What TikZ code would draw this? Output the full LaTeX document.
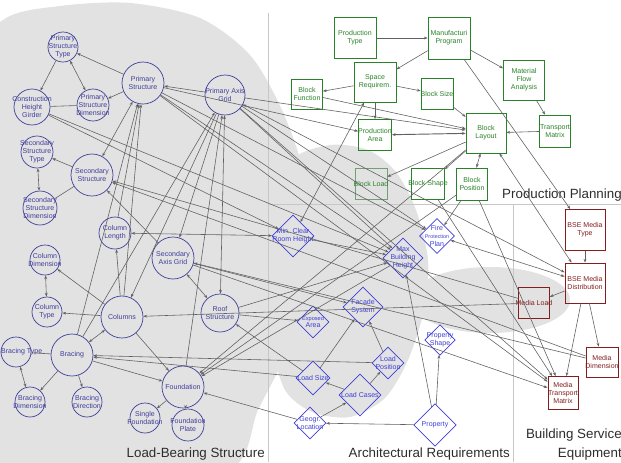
\documentclass[tikz,border=0pt]{standalone}
\usepackage{fontspec}
\setmainfont{Liberation Sans}
\usetikzlibrary{shapes.geometric,arrows.meta}

\definecolor{lbblue}{RGB}{62,62,155}
\definecolor{arblue}{RGB}{62,62,215}
\definecolor{ppgreen}{RGB}{40,130,40}
\definecolor{loadgreen}{RGB}{115,160,115}
\definecolor{bsered}{RGB}{130,30,30}
\definecolor{regiongrey}{RGB}{226,226,226}
\definecolor{titlegrey}{RGB}{45,45,45}

\tikzset{
  lbnode/.style={circle, draw=lbblue, line width=0.6pt, inner sep=0pt},
  arnode/.style={diamond, aspect=1, draw=arblue, line width=0.6pt, inner sep=0pt},
  ppnode/.style={rectangle, draw=ppgreen, line width=0.6pt, inner sep=0pt},
  bsenode/.style={rectangle, draw=bsered, line width=0.7pt, inner sep=0pt},
  lbtext/.style={text=lbblue, font=\fontsize{6}{6.8}\selectfont, align=center, inner sep=0pt},
  artext/.style={text=arblue, font=\fontsize{6}{6.8}\selectfont, align=center, inner sep=0pt},
  pptext/.style={text=ppgreen, font=\fontsize{6}{6.8}\selectfont, align=center, inner sep=0pt},
  bsetext/.style={text=bsered, font=\fontsize{6}{6.8}\selectfont, align=center, inner sep=0pt},
  link/.style={black!62, line width=0.5pt},
  sepline/.style={black!22, line width=0.7pt},
  region/.style={font=\fontsize{11.4}{16}\selectfont, text=titlegrey, inner sep=0pt}
}

\begin{document}
\begin{tikzpicture}[x=0.03cm, y=-0.03cm, >={Stealth[length=3.2pt,width=2.4pt]}]
    \useasboundingbox (0,0) rectangle (621,462);

    % Grey areas
    \begin{scope}
      \clip (0,0) rectangle (621,462);
      \fill[regiongrey] plot[smooth cycle] coordinates {(-40,80) (3,20) (60,6) (130,3) (200,18) (250,55) (282,110) (303,170) (311,235) (303,300) (283,360) (258,410) (230,470) (100,500) (-40,480)};
      \fill[regiongrey] plot[smooth cycle] coordinates {(292,160) (330,145) (368,150) (396,172) (416,210) (428,260) (424,310) (408,360) (385,398) (350,417) (312,412) (285,390) (273,345) (272,280) (277,210)};
      \fill[regiongrey] (490,300) ellipse [x radius=80, y radius=33];
    \end{scope}

    % Borders
    \draw[sepline] (268,13) -- (268,462);
    \draw[sepline] (268,204) -- (621,204);
    \draw[sepline] (513,204) -- (513,462);

    % Load-Bearing Structure
    \node[lbnode, minimum size=0.9cm, label={[lbtext]center:Primary\\Structure\\Type}] (pst) at (63,47) {};
    \node[lbnode, minimum size=1.26cm, label={[lbtext]center:Primary\\Structure}] (ps) at (143,83) {};
    \node[lbnode, minimum size=1.08cm, label={[lbtext]center:Construction\\Height\\Girder}] (chg) at (32,107) {};
    \node[lbnode, minimum size=0.96cm, label={[lbtext]center:Primary\\Structure\\Dimension}] (psd) at (93,105) {};
    \node[lbnode, minimum size=1.2cm, label={[lbtext]center:Primary Axis\\Grid}] (pag) at (225,95) {};
    \node[lbnode, minimum size=0.96cm, label={[lbtext]center:Secondary\\Structure\\Type}] (sst) at (37,152) {};
    \node[lbnode, minimum size=1.26cm, label={[lbtext]center:Secondary\\Structure}] (secs) at (92,175) {};
    \node[lbnode, minimum size=1.02cm, label={[lbtext]center:Secondary\\Structure\\Dimension}] (ssd) at (40,208) {};
    \node[lbnode, minimum size=0.96cm, label={[lbtext]center:Column\\Length}] (collen) at (115,233) {};
    \node[lbnode, minimum size=0.9cm, label={[lbtext]center:Column\\Dimension}] (coldim) at (45,260) {};
    \node[lbnode, minimum size=1.26cm, label={[lbtext]center:Secondary\\Axis Grid}] (sag) at (173,258) {};
    \node[lbnode, minimum size=0.9cm, label={[lbtext]center:Column\\Type}] (coltype) at (47,312) {};
    \node[lbnode, minimum size=1.26cm, label={[lbtext]center:Columns}] (columns) at (122,317) {};
    \node[lbnode, minimum size=1.14cm, label={[lbtext]center:Roof\\Structure}] (roof) at (220,313) {};
    \node[lbnode, minimum size=1.26cm, label={[lbtext]center:Bracing}] (bracing) at (72,355) {};
    \node[lbnode, minimum size=0.9cm, label={[lbtext, xshift=0.17cm]center:Bracing Type}] (brtype) at (16,352) {};
    \node[lbnode, minimum size=0.9cm, label={[lbtext]center:Bracing\\Dimension}] (brdim) at (30,402) {};
    \node[lbnode, minimum size=0.9cm, label={[lbtext]center:Bracing\\Direction}] (brdir) at (87,402) {};
    \node[lbnode, minimum size=1.26cm, label={[lbtext]center:Foundation}] (found) at (183,387) {};
    \node[lbnode, minimum size=0.9cm, label={[lbtext]center:Single\\Foundation}] (sfound) at (145,418) {};
    \node[lbnode, minimum size=0.96cm, label={[lbtext]center:Foundation\\Plate}] (fplate) at (188,425) {};

    % Architectural Requirements
    \node[arnode, minimum size=1.26cm, label={[artext]center:Min. Clear\\Room Height}] (mcrh) at (293,236) {};
    \node[arnode, minimum size=1.2cm, label={[artext]center:Max\\Building\\Height}] (mbh) at (403,258) {};
    \node[arnode, minimum size=1.05cm, label={[artext]center:Fire\\{\fontsize{4.6}{5.6}\selectfont Protection}\\Plan}] (fpp) at (437,236) {};
    \node[arnode, minimum size=1.2cm, label={[artext]center:Facade\\System}] (facade) at (363,307) {};
    \node[arnode, minimum size=0.96cm, label={[artext]center:{\fontsize{4.8}{5.6}\selectfont Exposed}\\Area}] (exposed) at (313,322) {};
    \node[arnode, minimum size=0.96cm, label={[artext]center:Load\\Position}] (loadpos) at (388,363) {};
    \node[arnode, minimum size=1.02cm, label={[artext]center:Load Size}] (loadsize) at (313,378) {};
    \node[arnode, minimum size=1.26cm, label={[artext]center:Load Cases}] (loadcases) at (360,395) {};
    \node[arnode, minimum size=0.92cm, label={[artext]center:Property\\Shape}] (propshape) at (440,340) {};
    \node[arnode, minimum size=0.96cm, label={[artext]center:Geogr.\\Location}] (geogr) at (310,423) {};
    \node[arnode, minimum size=1.28cm, label={[artext]center:Property}] (property) at (435,425) {};

    % Production Planning
    \node[ppnode, minimum width=1.26cm, minimum height=1.23cm, label={[pptext]center:Production\\Type}] (prodtype) at (355,38) {};
    \node[ppnode, minimum width=1.26cm, minimum height=1.26cm, label={[pptext]center:Manufacturi\\Program}] (manuprog) at (449,38) {};
    \node[ppnode, minimum width=1.26cm, minimum height=1.2cm, label={[pptext]center:Space\\Requirem.}] (spacereq) at (375,82) {};
    \node[ppnode, minimum width=0.93cm, minimum height=0.9cm, label={[pptext]center:Block\\Function}] (blockfunc) at (307,94) {};
    \node[ppnode, minimum width=0.96cm, minimum height=0.93cm, label={[pptext]center:Block Size}] (blocksize) at (437,94) {};
    \node[ppnode, minimum width=1.23cm, minimum height=1.2cm, label={[pptext]center:Material\\Flow\\Analysis}] (matflow) at (524,80) {};
    \node[ppnode, minimum width=0.93cm, minimum height=0.96cm, label={[pptext]center:Transport\\Matrix}] (transmat) at (555,131) {};
    \node[ppnode, minimum width=1.2cm, minimum height=1.2cm, label={[pptext]center:Block\\Layout}] (blocklayout) at (486,133) {};
    \node[ppnode, minimum width=0.99cm, minimum height=0.93cm, label={[pptext]center:Production\\Area}] (prodarea) at (375,135) {};
    \node[ppnode, draw=loadgreen, minimum width=0.96cm, minimum height=0.93cm, label={[pptext]center:Block Load}] (blockload) at (371,184) {};
    \node[ppnode, minimum width=0.99cm, minimum height=0.93cm, label={[pptext]center:Block Shape}] (blockshape) at (428,184) {};
    \node[ppnode, minimum width=0.93cm, minimum height=0.96cm, label={[pptext]center:Block\\Position}] (blockpos) at (472,184) {};

    % Building Service Equipment
    \node[bsenode, minimum width=1.2cm, minimum height=1.23cm, label={[bsetext]center:BSE Media\\Type}] (bsemt) at (585,230) {};
    \node[bsenode, minimum width=1.2cm, minimum height=1.2cm, label={[bsetext]center:BSE Media\\Distribution}] (bsemd) at (585,283) {};
    \node[bsenode, minimum width=0.93cm, minimum height=0.93cm, label={[bsetext]center:Media Load}] (mediaload) at (534,303) {};
    \node[bsenode, minimum width=0.96cm, minimum height=0.9cm, label={[bsetext]center:Media\\Dimension}] (mediadim) at (602,362) {};
    \node[bsenode, minimum width=0.9cm, minimum height=0.99cm, label={[bsetext]center:Media\\Transport\\Matrix}] (mtm) at (563,393) {};

    % Titles
    \node[region, anchor=base east] (lbtitle) at (265,457) {Load-Bearing Structure};
    \node[region, anchor=base east] (artitle) at (510,457) {Architectural Requirements};
    \node[region, anchor=base east] (pptitle) at (622,198) {Production Planning};
    \node[region, anchor=south east, align=right] (bsetitle) at (622,460) {Building Service\\Equipment};

    % Links inside the load-bearing structure
    \draw[link,->] (ps) -- (pst);
    \draw[link,->] (pst) -- (chg);
    \draw[link,<->] (pst) -- (psd);
    \draw[link,->] (ps) -- (psd);
    \draw[link] (chg) -- (psd);
    \draw[link,->] (pag) -- (ps);
    \draw[link,<->] (ps) -- (secs);
    \draw[link,->] (secs) -- (sst);
    \draw[link,<->] (sst) -- (ssd);
    \draw[link] (ssd) -- (secs);
    \draw[link,->] (collen) -- (ps);
    \draw[link,->] (bracing) -- (ps);
    \draw[link,->] (columns) -- (ps);
    \draw[link,->] (sag) -- (secs);
    \draw[link,->] (columns) -- (collen);
    \draw[link,->] (columns) -- (coldim);
    \draw[link,<->] (coldim) -- (coltype);
    \draw[link,->] (columns) -- (coltype);
    \draw[link,<->] (bracing) -- (columns);
    \draw[link] (bracing) -- (brtype);
    \draw[link,<->] (brtype) -- (brdim);
    \draw[link,->] (bracing) -- (brdim);
    \draw[link,->] (bracing) -- (brdir);
    \draw[link,->] (bracing) -- (found);
    \draw[link,->] (columns) -- (found);
    \draw[link,->] (found) -- (sfound);
    \draw[link,->] (found) -- (fplate);
    \draw[link,<->] (pag) -- (roof);
    \draw[link,->] (pag) -- (sag);
    \draw[link,->] (pag) -- (columns);
    \draw[link,->] (bracing) -- (pag);
    \draw[link,->] (found) -- (pag);
    \draw[link,<->] (sag) -- (roof);

    % Links across the areas
    \draw[link,->] (pag) -- (blocklayout);
    \draw[link,<->] (pag) -- (bsemd);
    \draw[link,->] (pag) -- (mtm);
    \draw[link,->] (pag) -- (fpp);
    \draw[link,->] (pag) -- (mbh);
    \draw[link,->] (ps) -- (mbh);
    \draw[link,->] (ps) -- (mtm);
    \draw[link,->] (ps) -- (fpp);
    \draw[link,->] (ps) -- (prodarea);
    \draw[link,->] (chg) -- (mcrh);
    \draw[link,->] (chg) -- (mbh);
    \draw[link,->] (mediaload) -- (secs);
    \draw[link,->] (mediadim) -- (secs);
    \draw[link,<->] (collen) -- (mcrh);
    \draw[link,->] (sag) -- (facade);
    \draw[link,->] (sag) -- (mtm);
    \draw[link,->] (mediadim) -- (sag);
    \draw[link,->] (roof) -- (mbh);
    \draw[link,->] (roof) -- (exposed);
    \draw[link,->] (loadsize) -- (roof);
    \draw[link,->] (loadpos) -- (bracing);
    \draw[link,->] (loadsize) -- (bracing);
    \draw[link,->] (geogr) -- (found);
    \draw[link,->] (blockpos) -- (found);
    \draw[link,->] (blocklayout) -- (found);
    \draw[link,->] (mbh) -- (found);
    \draw[link,<->] (spacereq) -- (mcrh);
    \draw[link,->] (mediaload) -- (columns);
    \draw[link,->] (mcrh) -- (mbh);
    \draw[link,->] (blockpos) -- (mtm);
    \draw[link,->] (blockshape) -- (mtm);
    \draw[link,->] (blockpos) -- (fpp);
    \draw[link,<->] (fpp) -- (bsemd);

    % Links inside production planning
    \draw[link,->] (prodtype) -- (manuprog);
    \draw[link,->] (manuprog) -- (spacereq);
    \draw[link,->] (manuprog) -- (matflow);
    \draw[link,->] (matflow) -- (transmat);
    \draw[link,->] (transmat) -- (blocklayout);
    \draw[link,->] (spacereq) -- (blockfunc);
    \draw[link,->] (spacereq) -- (blocksize);
    \draw[link,->] (spacereq) -- (prodarea);
    \draw[link,->] (blocksize) -- (blocklayout);
    \draw[link,->] (blockfunc) -- (blocklayout);
    \draw[link,<->,line width=0.8pt] (prodarea) -- (blocklayout);
    \draw[link,->] (blocklayout) -- (blockload);
    \draw[link,->] (blocklayout) -- (blockshape);
    \draw[link,<->] (blocklayout) -- (blockpos);
    \draw[link,->] (manuprog) -- (bsemt);
    \draw[link,<->] (blocklayout) -- (bsemd);
    \draw[link,->] (bsemt) -- (bsemd);
    \draw[link,->] (bsemd) -- (mediaload);
    \draw[link,->] (bsemd) -- (mediadim);
    \draw[link,->] (bsemd) -- (mtm);

    % Links inside the architectural requirements
    \draw[link,->] (property) -- (geogr);
    \draw[link,->] (property) -- (propshape);
    \draw[link,->] (property) -- (mbh);
    \draw[link,->] (geogr) -- (loadcases);
    \draw[link,->] (loadcases) -- (loadpos);
    \draw[link,->] (loadcases) -- (loadsize);
    \draw[link,->] (loadpos) -- (facade);
    \draw[link,->] (loadsize) -- (facade);
\end{tikzpicture}
\end{document}
